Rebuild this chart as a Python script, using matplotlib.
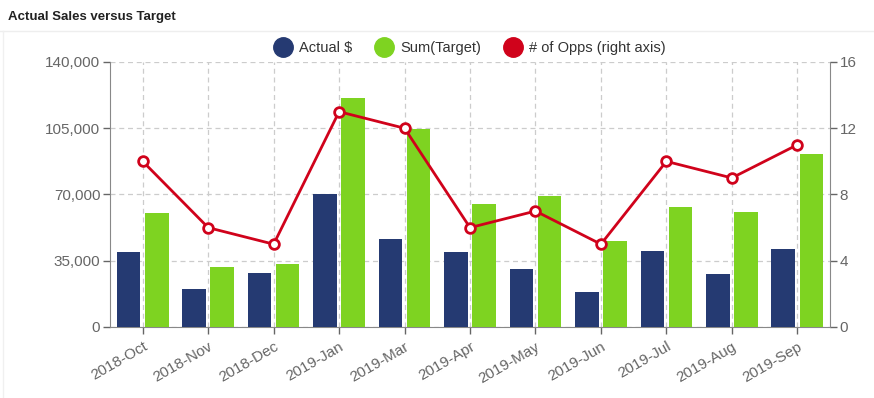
import numpy as np
import matplotlib.pyplot as plt
from matplotlib.lines import Line2D

plt.rcParams['font.family'] = ['Liberation Sans', 'DejaVu Sans']

# values
months = ['2018-Oct', '2018-Nov', '2018-Dec', '2019-Jan', '2019-Mar', '2019-Apr',
          '2019-May', '2019-Jun', '2019-Jul', '2019-Aug', '2019-Sep']
actual = [39500, 20000, 28400, 70000, 46700, 39500, 30500, 18500, 40200, 28000, 41100]
target = [60000, 31800, 33300, 121100, 104400, 65000, 69100, 45300, 63500, 60500, 91500]
opps = [10, 6, 5, 13, 12, 6, 7, 5, 10, 9, 11]

navy = '#253a72'
green = '#7ed321'
red = '#d0021b'
grey = '#666666'

fig = plt.figure(figsize=(8.74, 3.98), dpi=100)
ax = fig.add_axes([110 / 874, 1 - 327 / 398, 720 / 874, 265 / 398])
ax2 = ax.twinx()

x = np.arange(len(months))
w = 0.36
ax.bar(x - 0.215, actual, w, color=navy, zorder=3)
ax.bar(x + 0.215, target, w, color=green, zorder=3)
ax2.plot(x, opps, color=red, lw=2, marker='o', ms=7, mfc='white', mec=red, mew=2, zorder=4)

ax.set_xlim(-0.5, len(months) - 0.5)
ax.set_ylim(0, 140000)
ax.set_yticks([0, 35000, 70000, 105000, 140000])
ax.set_yticklabels(['0', '35,000', '70,000', '105,000', '140,000'])
ax2.set_ylim(0, 16)
ax2.set_yticks([0, 4, 8, 12, 16])

ax.set_xticks(x)
ax.set_xticklabels(months, rotation=30, ha='right', rotation_mode='anchor')
ax.grid(True, color='#cccccc', ls=(0, (4, 3)), lw=0.9, zorder=0)
ax.set_axisbelow(True)

for a in (ax, ax2):
    a.tick_params(colors=grey, labelsize=11, length=5, width=1, pad=2)
    for s in a.spines.values():
        s.set_color('#888888')
    a.spines['top'].set_visible(False)
ax.spines['right'].set_visible(False)
ax2.spines['left'].set_visible(False)
ax2.spines['bottom'].set_visible(False)
ax.tick_params(axis='x', pad=4)
for lab in ax.get_xticklabels() + ax.get_yticklabels() + ax2.get_yticklabels():
    lab.set_color(grey)

handles = [Line2D([], [], ls='none', marker='o', ms=14, color=c) for c in (navy, green, red)]
fig.legend(handles, ['Actual $', 'Sum(Target)', '# of Opps (right axis)'],
           loc='center', bbox_to_anchor=(467 / 874, 1 - 48 / 398), ncol=3, frameon=False,
           fontsize=10.5, handletextpad=0.1, columnspacing=1.2, labelcolor='#333333')

fig.text(8 / 874, 1 - 17 / 398, 'Actual Sales versus Target', fontsize=9.5,
         fontweight='bold', color='#222222', va='center', ha='left')
fig.add_artist(Line2D([0, 1], [1 - 31 / 398, 1 - 31 / 398], color='#eeeeee', lw=1))
fig.add_artist(Line2D([3 / 874, 3 / 874], [0, 1 - 31 / 398], color='#f0f0f0', lw=1))

fig.savefig('out.png', dpi=100)
